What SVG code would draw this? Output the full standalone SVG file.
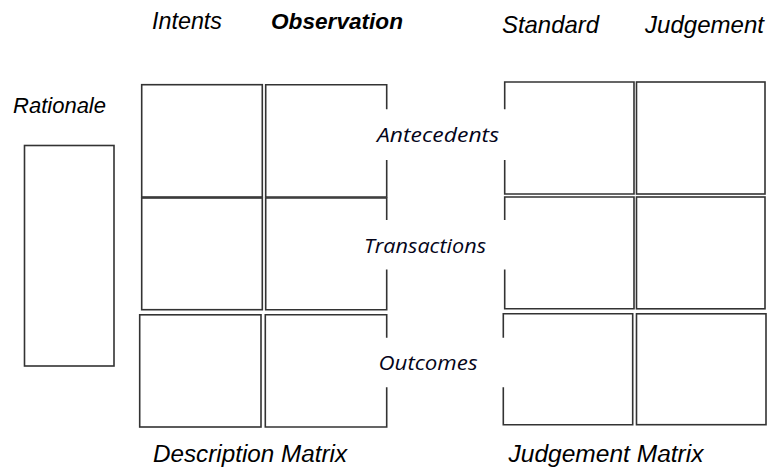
<svg xmlns="http://www.w3.org/2000/svg" width="768" height="470" viewBox="0 0 768 470">
<style>
.cell{fill:#fff;stroke:#333;stroke-width:1.6}
.open{fill:none;stroke:#333;stroke-width:1.6}
.hd{font-family:"Liberation Sans",Arial,sans-serif;font-style:italic;fill:#000}
.b{font-weight:bold}
.mid{font-family:"Open Sans","Noto Sans",sans-serif;font-style:italic;font-size:20px;fill:#05051a}
</style>
<rect width="768" height="470" fill="#fff"/>
<g id="connectors"/>
<g id="rationale">
<text class="hd" x="13" y="113" font-size="22" textLength="93" lengthAdjust="spacingAndGlyphs">Rationale</text>
<rect class="cell" x="24.5" y="145.5" width="89.5" height="220.5"/>
</g>
<g id="headers">
<text class="hd" x="152" y="29" font-size="23" textLength="70" lengthAdjust="spacingAndGlyphs">Intents</text>
<text class="hd b" x="271" y="28.5" font-size="22.5" textLength="132" lengthAdjust="spacingAndGlyphs">Observation</text>
<text class="hd" x="502" y="32.5" font-size="24" textLength="97" lengthAdjust="spacingAndGlyphs">Standard</text>
<text class="hd" x="645" y="32.5" font-size="24" textLength="119" lengthAdjust="spacingAndGlyphs">Judgement</text>
</g>
<g id="desc-a-intents"><rect class="cell" x="141.7" y="84.7" width="120.6" height="112.3"/></g>
<g id="desc-a-obs"><path class="open" d="M386.7,109.3V84.7H265.7V197H386.7V160"/></g>
<g id="desc-t-intents"><rect class="cell" x="141.7" y="198" width="120.6" height="111.7"/></g>
<g id="desc-t-obs"><path class="open" d="M386.7,220V198H265.7V309.7H386.7V269.5"/></g>
<g id="desc-o-intents"><rect class="cell" x="139.7" y="314.8" width="121.3" height="112.2"/></g>
<g id="desc-o-obs"><path class="open" d="M386.7,337.7V314.8H265.3V427H386.7V387.3"/></g>
<g id="judg-a-std"><path class="open" d="M504.7,109.3V82H634V194H504.7V160"/></g>
<g id="judg-a-jdg"><rect class="cell" x="636.5" y="82" width="128.5" height="112"/></g>
<g id="judg-t-std"><path class="open" d="M504.7,220V197H634V308.8H504.7V269.5"/></g>
<g id="judg-t-jdg"><rect class="cell" x="636.5" y="197" width="128.5" height="111.8"/></g>
<g id="judg-o-std"><path class="open" d="M503.3,337.7V313.8H632.7V424.7H503.3V387.3"/></g>
<g id="judg-o-jdg"><rect class="cell" x="636.5" y="313.8" width="129.5" height="110.9"/></g>
<g id="row-labels">
<text class="mid" x="377" y="141.5" textLength="122" lengthAdjust="spacingAndGlyphs">Antecedents</text>
<text class="mid" x="364" y="252.5" textLength="122" lengthAdjust="spacingAndGlyphs">Transactions</text>
<text class="mid" x="378.5" y="370" textLength="99" lengthAdjust="spacingAndGlyphs">Outcomes</text>
</g>
<g id="footers">
<text class="hd" x="153" y="461.5" font-size="23.5" textLength="194" lengthAdjust="spacingAndGlyphs">Description Matrix</text>
<text class="hd" x="508.5" y="461.5" font-size="23.5" textLength="195" lengthAdjust="spacingAndGlyphs">Judgement Matrix</text>
</g>
</svg>
